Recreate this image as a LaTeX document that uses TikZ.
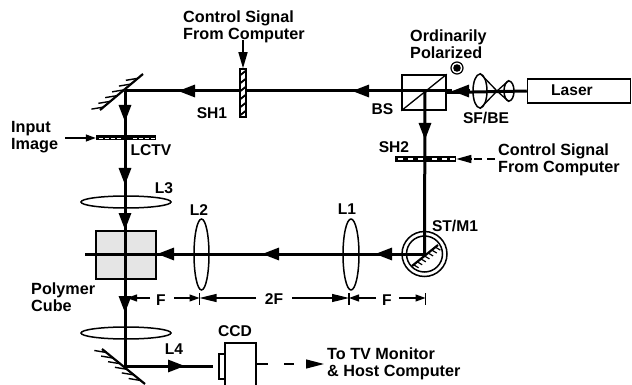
\documentclass[tikz,border=0pt]{standalone}
\usepackage{fontspec}
\setmainfont{Liberation Sans}
\usetikzlibrary{arrows.meta,shapes.geometric,calc}
\tikzset{
  lab/.style={font=\fontsize{16.2}{17}\selectfont\bfseries,anchor=west,inner sep=0pt,align=left},
  labs/.style={font=\fontsize{15.6}{17}\selectfont\bfseries,anchor=center,inner sep=0pt},
  beam/.style={line width=3pt,line cap=butt},
  big/.style={-{Triangle[length=17pt,width=12pt]}},
  thinb/.style={line width=1.2pt},
  small/.style={-{Triangle[length=10pt,width=7pt]}},
  med/.style={-{Triangle[length=16pt,width=9pt]}},
  lens/.style={draw,ellipse,line width=1.5pt,inner sep=0pt},
  box/.style={draw,rectangle,line width=1.5pt,inner sep=0pt},
  hatch/.style={line width=1.4pt},
}
\begin{document}
\begin{tikzpicture}[x=1pt,y=-1pt]
\useasboundingbox (0,0) rectangle (632,385);
% named points
\coordinate (m1) at (125,91);
\coordinate (m2) at (125,366);
\coordinate (st) at (424.5,254);
\coordinate (bsc) at (425,91);
% cube
\node[box,fill=black!10,minimum width=60pt,minimum height=48pt] (cube) at (126,255) {};
% boxes
\node[box,minimum width=103pt,minimum height=24pt] (laser) at (579,91) {};
\node[box,minimum width=44pt,minimum height=35pt] (bs) at (424,92.5) {};
\draw[line width=1.3pt] (bs.south west) -- (bs.north east);
% beams
\draw[beam] (laser.west) -- (bs.east);
\coordinate (a1) at (452,91);
\draw[beam,big] (470,91) -- (a1);
\draw[beam] (a1) -- (m1);
\coordinate (a2) at (352,91);
\coordinate (a2b) at (370,91);
\draw[beam,big] (a2b) -- (a2);
\coordinate (a3) at (178,91);
\coordinate (a3b) at (196,91);
\draw[beam,big] (a3b) -- (a3);
\draw[beam] (m1) -- (m2);
\foreach \b/\t in {106/122,170/185,214/230,296/313}{
  \draw[beam,big] (125,\b) -- (125,\t);
}
\draw[beam] (bsc) -- (st);
\draw[beam,big] (425,125) -- (425,140);
\draw[beam] (st) -- (85,254);
\foreach \b/\t in {174/157,278/262,393/375}{
  \draw[beam,big] (\b,254) -- (\t,254);
}
\coordinate (ccdin) at (213,366);
\draw[beam] (m2) -- (ccdin);
\draw[beam,big] (165,366) -- (185,366);
% top mirror
\coordinate (ma) at (100,110);
\coordinate (mb) at (143,74);
\draw[line width=2.2pt] (ma) -- (mb);
\foreach \t in {0.08,0.24,0.40,0.56,0.72,0.88}{
  \draw[hatch] ($(ma)!\t!(mb)$) -- ++(-12,2);
}
% bottom mirror
\coordinate (mc) at (102,349);
\coordinate (md) at (145,384);
\draw[line width=2.2pt] (mc) -- (md);
\foreach \t in {0.1,0.26,0.42,0.58,0.74,0.90}{
  \draw[hatch] ($(mc)!\t!(md)$) -- ++(-12,-2);
}
% lenses
\node[lens,minimum width=90pt,minimum height=12pt] (l3) at (126,202) {};
\node[lens,minimum width=90pt,minimum height=12pt] (l5) at (126,333) {};
\node[lens,minimum width=15pt,minimum height=71pt] (l2) at (201.5,254.5) {};
\node[lens,minimum width=16pt,minimum height=71pt] (l1) at (351,254.5) {};
% LCTV
\node[rectangle,fill=black,minimum width=60pt,minimum height=5pt,inner sep=0pt] (lctv) at (126,138) {};
\foreach \x in {99,105,111,117,133,139,145,151}{
  \draw[white,line width=0.8pt] (\x,138) -- (\x+4,138);
}
\draw[thinb,small] (65,138) -- (lctv.west);
% SH1
\node[box,fill=white,minimum width=6pt,minimum height=48pt] (sh1) at (243,93) {};
\foreach \y in {73,81,89,97,105,113}{
  \draw[line width=1.8pt] (240.5,\y+2) -- (245.5,\y-2);
}
\coordinate (sh1top) at (243,40);
\draw[line width=1.4pt,med] (sh1top) -- (sh1.north);
% SH2
\node[box,fill=black,minimum width=60pt,minimum height=5pt] (sh2) at (425.5,159) {};
\foreach \x in {398,408,418,432,442,450}{
  \draw[white,line width=1.2pt] (\x,159) -- (\x+5,159);
}
\coordinate (sh2r) at (495,159);
\draw[thinb,dash pattern=on 8pt off 5pt] (sh2r) -- (472,159);
\draw[thinb,-{Triangle[length=15pt,width=8pt]}] (472,159) -- (sh2.east);
% ST/M1
\node[draw,circle,line width=1.5pt,minimum size=45pt,inner sep=0pt] (stout) at (st) {};
\node[draw,circle,line width=1.5pt,minimum size=36pt,inner sep=0pt] (stin) at (st) {};
\coordinate (sa) at (412,266);
\coordinate (sb) at (438,245);
\draw[line width=2.2pt] (sa) -- (sb);
\foreach \t in {0.06,0.2,0.34,0.48,0.62,0.76,0.9}{
  \draw[line width=1.2pt] ($(sa)!\t!(sb)$) -- ++(5,3);
}
% SF/BE
\node[lens,minimum width=14pt,minimum height=34pt] (be1) at (480,91) {};
\node[lens,minimum width=10pt,minimum height=20pt] (be2) at (509,91) {};
\coordinate (foc) at (497,91);
\draw[line width=1.3pt] (be1.north) -- (foc) -- (be1.south);
\draw[line width=1.3pt] (be2.north) -- (foc) -- (be2.south);
% polarization dot
\node[draw,circle,line width=1.2pt,minimum size=12pt,inner sep=0pt] (pdot) at (457,68) {};
\fill (pdot.center) circle (3.8pt);
% CCD
\node[box,minimum width=6pt,minimum height=25pt] (ccdw) at (222,366.5) {};
\coordinate (c1) at (225,385);
\coordinate (c2) at (225,343);
\coordinate (c3) at (256,343);
\coordinate (c4) at (256,385);
\draw[line width=1.5pt] (c1) -- (c2) -- (c3) -- (c4);
\coordinate (ccdo) at (256,364);
\draw[thinb] (ccdo) -- (268,364);
\draw[thinb] (284,364) -- (294,364);
\draw[thinb,-{Triangle[length=18pt,width=9pt]}] (306,364) -- (324,364);
% dimension ticks
\coordinate (t1) at (199.5,298);
\coordinate (t2) at (349,298);
\coordinate (t3) at (425.5,298);
\draw[thinb] (199.5,293) -- (199.5,305);
\draw[thinb] (349,293) -- (349,305);
\draw[thinb] (425.5,293) -- (425.5,305);
\draw[thinb,small] (150,298) -- (127,298);
\draw[thinb,small] (174,298) -- (t1);
\draw[thinb,-{Triangle[length=17pt,width=8pt]}] (256,298) -- (t1);
\draw[thinb,-{Triangle[length=17pt,width=8pt]}] (292,298) -- (t2);
\draw[thinb,small] (376,298) -- (t2);
\draw[thinb,small] (399,298) -- (t3);
% labels
\node[lab] (tc) at (183,26.5) {Control Signal\\From Computer};
\node[lab] (op) at (410,44.5) {Ordinarily\\Polarized};
\node[lab] (rc) at (498,160) {Control Signal\\From Computer};
\node[lab] (ii) at (11,137) {Input\\Image};
\node[lab] (pc) at (31,297.5) {Polymer\\Cube};
\node[lab] (tv) at (327,363.5) {To TV Monitor\\\& Host Computer};
\node[labs] at (572,90) {Laser};
\node[labs] at (382.5,109) {BS};
\node[labs] at (212,113) {SH1};
\node[labs] at (394,147) {SH2};
\node[labs] at (486,118) {SF/BE};
\node[labs] at (151,150) {LCTV};
\node[labs] at (164,188) {L3};
\node[labs] at (199,210) {L2};
\node[labs] at (347,209) {L1};
\node[labs] at (455,226) {ST/M1};
\node[labs] at (161,300) {F};
\node[labs] at (274,299) {2F};
\node[labs] at (387,300) {F};
\node[labs] at (174,349) {L4};
\node[labs] at (235,331) {CCD};
\end{tikzpicture}
\end{document}
